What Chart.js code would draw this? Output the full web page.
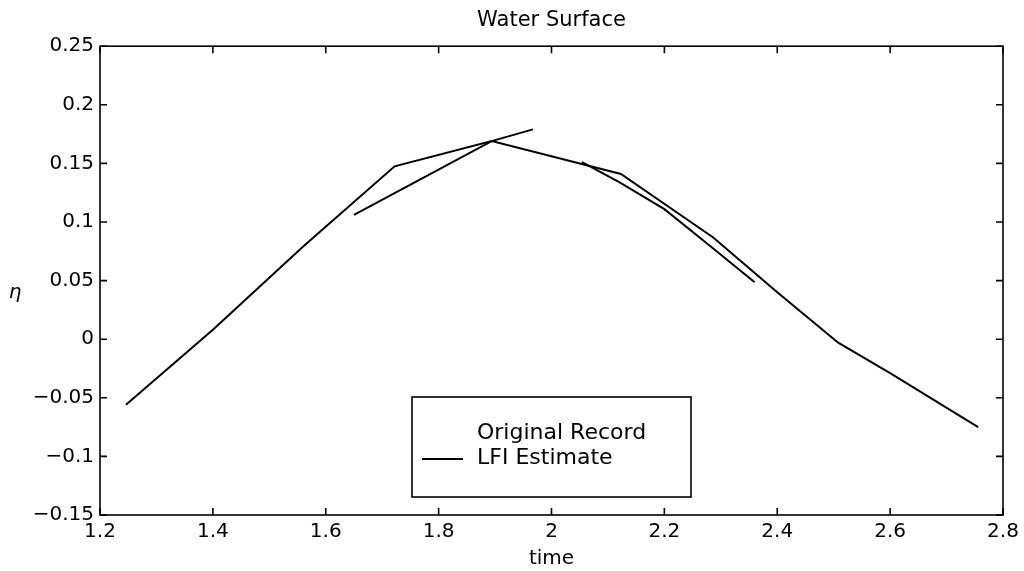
<!DOCTYPE html>
<html lang="en">
<head>
<meta charset="UTF-8">
<title>Water Surface</title>
<script src="https://cdn.jsdelivr.net/npm/chart.js"></script>
<style>
  body { margin: 0; background: #fff; }
  canvas { display: block; }
</style>
</head>
<body>
<canvas id="surfaceChart" width="1024" height="571"></canvas>
<script>
// measured surface elevation (time, eta)
const recordTime = [1.246, 1.40, 1.56, 1.722, 1.894, 2.123, 2.286, 2.40, 2.508, 2.60, 2.756];
const recordEta = [-0.056, 0.008, 0.079, 0.1475, 0.169, 0.141, 0.087, 0.040, -0.003, -0.029, -0.075];

// LFI estimate over two windows; the null entry breaks the line
const lfiTime = [1.650, 1.77, 1.894, 1.967, 2.01, 2.054, 2.12, 2.20, 2.28, 2.36];
const lfiEta = [0.106, 0.137, 0.169, 0.179, null, 0.151, 0.134, 0.111, 0.080, 0.0486];

const xTickLabels = ['1.2', '1.4', '1.6', '1.8', '2', '2.2', '2.4', '2.6', '2.8'];
const yTickLabels = ['\u22120.15', '\u22120.1', '\u22120.05', '0', '0.05', '0.1', '0.15', '0.2', '0.25'];
const seriesNames = ['Original Record', 'LFI Estimate'];

const FONT = "'DejaVu Sans', sans-serif";
Chart.defaults.font.family = FONT;
Chart.defaults.color = '#000';

function toPoints(xs, ys) {
    return xs.map((x, i) => ({ x: x, y: ys[i] }));
}

// box frame, inward tick marks, legend and the eta label
const framePlugin = {
    id: 'frame',
    afterDatasetsDraw(chart) {
        const ctx = chart.ctx;
        const a = chart.chartArea;
        const xs = chart.scales.x;
        const ys = chart.scales.y;
        const tick = 7;

        ctx.save();
        ctx.strokeStyle = '#000';
        ctx.lineWidth = 1.6;
        ctx.strokeRect(a.left, a.top, a.right - a.left, a.bottom - a.top);

        ctx.beginPath();
        xs.ticks.forEach(t => {
            const px = xs.getPixelForValue(t.value);
            ctx.moveTo(px, a.bottom); ctx.lineTo(px, a.bottom - tick);
            ctx.moveTo(px, a.top); ctx.lineTo(px, a.top + tick);
        });
        ys.ticks.forEach(t => {
            const py = ys.getPixelForValue(t.value);
            ctx.moveTo(a.left, py); ctx.lineTo(a.left + tick, py);
            ctx.moveTo(a.right, py); ctx.lineTo(a.right - tick, py);
        });
        ctx.stroke();

        // legend box
        const lx = 412, ly = 397, lw = 279, lh = 100;
        ctx.fillStyle = '#fff';
        ctx.fillRect(lx, ly, lw, lh);
        ctx.strokeRect(lx, ly, lw, lh);
        ctx.fillStyle = '#000';
        ctx.font = '22px ' + FONT;
        ctx.textBaseline = 'middle';
        ctx.textAlign = 'left';
        const rows = [433, 458];
        chart.data.datasets.forEach((ds, i) => {
            ctx.fillText(ds.label, 477, rows[i]);
            if (ds.legendLine) {
                ctx.beginPath();
                ctx.lineWidth = ds.borderWidth;
                ctx.moveTo(422, rows[i] + 1);
                ctx.lineTo(463, rows[i] + 1);
                ctx.stroke();
            }
        });

        // y label
        ctx.font = 'italic 20px ' + FONT;
        ctx.textAlign = 'center';
        ctx.fillText('\u03b7', 15, 293);
        ctx.restore();
    }
};

new Chart(document.getElementById('surfaceChart'), {
    type: 'scatter',
    data: {
        datasets: [{
            label: seriesNames[0],
            data: toPoints(recordTime, recordEta),
            showLine: true,
            borderColor: '#000',
            borderWidth: 2,
            pointRadius: 0,
            legendLine: false
        }, {
            label: seriesNames[1],
            data: toPoints(lfiTime, lfiEta),
            showLine: true,
            spanGaps: false,
            borderColor: '#000',
            borderWidth: 2,
            pointRadius: 0,
            legendLine: true
        }]
    },
    options: {
        responsive: false,
        animation: false,
        layout: { padding: { top: 0, right: 21, bottom: 0, left: 0 } },
        scales: {
            x: {
                type: 'linear',
                min: 1.2,
                max: 2.8,
                grid: { display: false, drawTicks: false },
                border: { display: false },
                ticks: {
                    stepSize: 0.2,
                    padding: 5,
                    maxRotation: 0,
                    font: { size: 20 },
                    callback: (v, i) => xTickLabels[i]
                },
                title: {
                    display: true,
                    text: 'time',
                    font: { size: 20 },
                    padding: { top: 0, bottom: 0 }
                },
                afterFit: s => { s.height = 56; }
            },
            y: {
                min: -0.15,
                max: 0.25,
                grid: { display: false, drawTicks: false },
                border: { display: false },
                ticks: {
                    stepSize: 0.05,
                    padding: 6,
                    font: { size: 20 },
                    callback: (v, i) => yTickLabels[i]
                },
                afterFit: s => { s.width = 100; }
            }
        },
        plugins: {
            legend: { display: false },
            tooltip: { enabled: false },
            title: {
                display: true,
                text: 'Water Surface',
                fullSize: false,
                font: { size: 21, weight: 'normal' },
                padding: { top: 8, bottom: 13 }
            }
        }
    },
    plugins: [framePlugin]
});
</script>
</body>
</html>
